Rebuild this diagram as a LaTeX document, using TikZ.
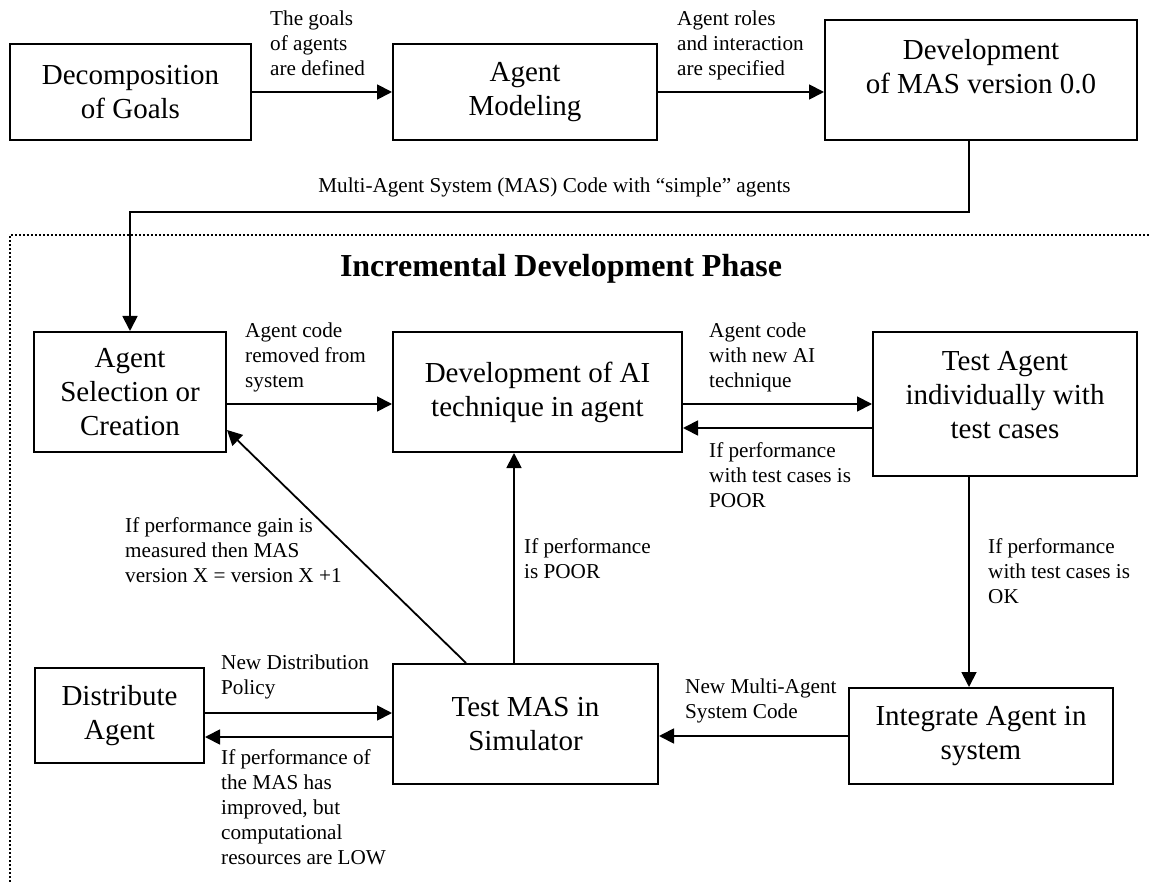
\documentclass[tikz,border=0pt]{standalone}
\usepackage{fontspec}
\setmainfont{Liberation Serif}
\usetikzlibrary{arrows.meta}

\begin{document}
\begin{tikzpicture}[x=1pt,y=1pt]
    \tikzset{stage/.style = {shape=rectangle,draw,line width=2pt,align=center,inner sep=0pt,font=\fontsize{29}{34}\selectfont}}
    \tikzset{note/.style = {align=left,anchor=north west,inner sep=0pt,font=\fontsize{21.2}{25}\selectfont}}
    \tikzset{edge/.style = {->,> = {Triangle[length=15pt,width=15pt]},line width=1.8pt}}
    \useasboundingbox (0,0) rectangle (1151,-882);
    % phase frame
    \draw[line width=1.6pt,dash pattern=on 1.6pt off 2.4pt] (10,-882) -- (10,-235) -- (1151,-235);
    \node[anchor=base,inner sep=0pt,font=\fontsize{32}{38}\selectfont\bfseries] (title) at (561,-277) {Incremental Development Phase};
    % vertices
    \node[stage,minimum width=241pt,minimum height=96pt] (a) at (130.5,-92) {Decomposition\\of Goals};
    \node[stage,minimum width=264pt,minimum height=96pt] (b) at (525,-92) {Agent\\Modeling};
    \node[stage,minimum width=312pt,minimum height=120pt] (c) at (981,-80) {Development\\of MAS version 0.0\\[-7pt]\mbox{}};
    \node[stage,minimum width=192pt,minimum height=120pt] (d) at (130,-392) {Agent\\Selection or\\Creation};
    \node[stage,minimum width=289pt,minimum height=120pt] (e) at (537.5,-392) {Development of AI\\technique in agent};
    \node[stage,minimum width=264pt,minimum height=144pt] (f) at (1005,-404) {Test Agent\\individually with\\test cases\\[-16pt]\mbox{}};
    \node[stage,minimum width=264pt,minimum height=96pt] (g) at (981,-736) {Integrate Agent in\\system};
    \node[stage,minimum width=265pt,minimum height=120pt] (h) at (525.5,-724) {Test MAS in\\Simulator};
    \node[stage,minimum width=169pt,minimum height=95pt] (i) at (119.5,-715.5) {Distribute\\Agent};
    % labels
    \node[note] (la) at (270,-10.5) {The goals\\of agents\\are defined};
    \node[note] (lb) at (677,-10.5) {Agent roles\\and interaction\\are specified};
    \node[note,anchor=base] (lc) at (554.5,-193) {Multi-Agent System (MAS) Code with “simple” agents};
    \node[note] (ld) at (245,-322.5) {Agent code\\removed from\\system};
    \node[note] (le) at (709,-322.5) {Agent code\\with new AI\\technique};
    \node[note] (lf) at (709,-442.5) {If performance\\with test cases is\\POOR};
    \node[note] (lg) at (988,-538.5) {If performance\\with test cases is\\OK};
    \node[note] (lh) at (524,-538.5) {If performance\\is POOR};
    \node[note] (li) at (125,-517.5) {If performance gain is\\measured then MAS\\version X = version X +1};
    \node[note] (lj) at (221,-654.5) {New Distribution\\Policy};
    \node[note] (lk) at (221,-749.5) {If performance of\\the MAS has\\improved, but\\computational\\resources are LOW};
    \node[note] (ll) at (685,-678.5) {New Multi-Agent\\System Code};
    %edges
    \draw[edge] (a) -- (b);
    \draw[edge] (b.east) -- (b.east -| c.west);
    \draw[edge] ([xshift=-12pt]c.south) -- ++(0,-71) -| (d.north);
    \draw[edge] ([yshift=-12pt]d.east) -- ([yshift=-12pt]e.west);
    \draw[edge] ([yshift=-12pt]e.east) -- (f.west);
    \draw[edge] ([yshift=-24pt]f.west) -- ([yshift=-36pt]e.east);
    \draw[edge] ([xshift=-36pt]f.south) -- ([xshift=-12pt]g.north);
    \draw[edge] (g.west) -- (g.west -| h.east);
    \draw[edge] ([xshift=-11.5pt]h.north) -- ([xshift=-23.5pt]e.south);
    \draw[edge] ([xshift=-59.5pt]h.north) -- ([yshift=-38pt]d.east);
    \draw[edge] ([yshift=2.5pt]i.east) -- ([yshift=11pt]h.west);
    \draw[edge] ([yshift=-13pt]h.west) -- ([yshift=-21.5pt]i.east);
\end{tikzpicture}
\end{document}
